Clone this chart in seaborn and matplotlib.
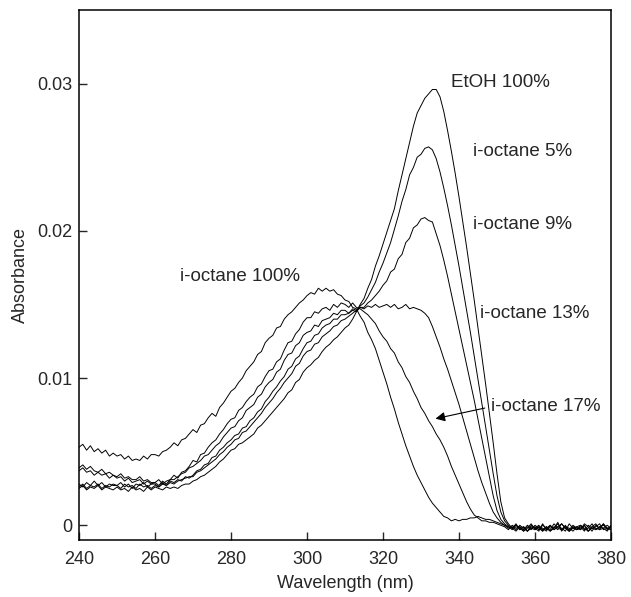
import numpy as np
import matplotlib.pyplot as plt
import seaborn as sns
import pandas as pd

sns.set_style('ticks')
plt.rcParams['font.family'] = ['Liberation Sans', 'DejaVu Sans']

# 波长 240-380 nm，每 1 nm 一个点
wavelength = list(range(240, 381))

# 吸光度读数，单位 1e-4
iso100 = [53, 55, 51, 54, 50, 52, 49, 51, 47, 49,
          47, 48, 45, 47, 44, 45, 44, 47, 45, 48,
          48, 47, 50, 51, 53, 56, 54, 58, 59, 62,
          65, 63, 68, 69, 73, 76, 74, 80, 83, 87,
          91, 93, 97, 100, 105, 108, 111, 116, 118, 124,
          127, 129, 134, 135, 140, 143, 145, 148, 151, 153,
          156, 158, 157, 161, 159, 161, 159, 160, 157, 156,
          153, 152, 148, 147, 142, 138, 131, 126, 120, 112,
          104, 96, 87, 79, 70, 62, 54, 47, 40, 34,
          29, 24, 19, 15, 12, 9, 6, 5, 3, 4,
          3, 4, 4, 5, 5, 6, 5, 4, 4, 3,
          2, 1, 0, -1, -2, 1, -3, -1, -4, 0,
          -2, -4, 1, -3, -1, -2, 2, -4, -1, -3,
          0, -2, -3, 1, -1, -4, 0, -2, 1, -3, -1]

iso17 = [39, 41, 38, 40, 37, 36, 38, 35, 36, 34,
         33, 35, 32, 33, 31, 31, 33, 30, 31, 29,
         29, 31, 28, 30, 31, 34, 32, 36, 37, 40,
         44, 43, 48, 49, 53, 56, 58, 62, 65, 69,
         72, 73, 78, 80, 84, 87, 89, 94, 96, 101,
         105, 106, 111, 113, 119, 124, 125, 130, 133, 138,
         141, 141, 145, 144, 147, 148, 146, 150, 148, 151,
         150, 148, 151, 148, 147, 145, 143, 140, 137, 132,
         128, 125, 120, 117, 111, 107, 101, 97, 91, 86,
         80, 76, 71, 67, 62, 58, 53, 47, 40, 34,
         28, 22, 16, 11, 7, 5, 3, 3, 2, 2,
         1, 0, -1, -3, 0, -2, -1, -4, -2, 1,
         -3, -1, -2, -4, 0, -3, -1, 1, -2, -4,
         -1, -3, 0, -2, -4, -1, 1, -3, -2, 0, -2]

iso13 = [37, 39, 36, 37, 34, 36, 34, 35, 32, 34,
         32, 33, 30, 32, 29, 30, 31, 28, 30, 28,
         29, 27, 30, 28, 31, 31, 33, 35, 36, 39,
         40, 42, 44, 47, 48, 51, 54, 56, 60, 63,
         66, 67, 71, 73, 78, 80, 82, 87, 89, 94,
         97, 99, 104, 106, 112, 116, 117, 122, 124, 129,
         131, 132, 136, 135, 139, 140, 141, 144, 143, 146,
         146, 144, 147, 146, 148, 147, 149, 148, 150, 148,
         149, 150, 148, 150, 147, 148, 150, 147, 148, 147,
         146, 144, 141, 135, 128, 121, 113, 106, 98, 90,
         82, 73, 64, 55, 46, 37, 29, 22, 15, 9,
         5, 2, 0, -2, -1, -3, 0, -2, -4, -1,
         -2, 0, -3, -1, -4, -2, 1, -3, -1, -2,
         -4, -1, 0, -3, -2, 1, -3, -1, -2, -4, 0]

iso9 = [28, 26, 29, 27, 30, 27, 29, 26, 28, 27,
        27, 29, 26, 28, 25, 28, 27, 29, 26, 28,
        28, 26, 29, 27, 30, 29, 31, 30, 33, 32,
        34, 37, 38, 41, 42, 46, 47, 51, 53, 56,
        58, 61, 62, 66, 67, 71, 73, 77, 79, 84,
        87, 91, 94, 98, 101, 106, 108, 113, 115, 120,
        124, 125, 129, 130, 134, 136, 137, 140, 140, 143,
        143, 144, 146, 145, 148, 148, 151, 153, 156, 159,
        163, 166, 172, 174, 181, 184, 192, 195, 202, 204,
        208, 209, 207, 206, 198, 190, 180, 169, 157, 145,
        133, 121, 109, 97, 85, 72, 59, 46, 33, 20,
        10, 4, 1, -1, -3, 0, -2, -4, -1, -3,
        0, -2, -4, -1, -3, 1, -2, -3, 0, -4,
        -2, -1, -3, 0, -4, -2, -1, 1, -3, -2, -1]

iso5 = [26, 28, 25, 27, 26, 28, 25, 27, 26, 28,
        27, 25, 28, 26, 27, 25, 28, 26, 27, 25,
        27, 26, 28, 27, 29, 28, 30, 31, 32, 33,
        33, 36, 37, 39, 41, 43, 45, 48, 50, 53,
        55, 58, 59, 63, 64, 67, 70, 73, 76, 80,
        83, 86, 90, 93, 97, 100, 103, 108, 110, 115,
        118, 119, 123, 124, 128, 130, 132, 135, 136, 139,
        140, 142, 144, 146, 149, 151, 155, 160, 165, 172,
        178, 185, 192, 201, 210, 220, 228, 238, 243, 250,
        252, 256, 257, 255, 249, 240, 229, 217, 204, 190,
        176, 161, 146, 131, 115, 99, 83, 67, 51, 35,
        20, 9, 3, 0, -2, -4, -1, -3, 0, -2,
        -3, -1, -4, -2, 0, -3, -1, -2, -4, 1,
        -2, -3, -1, -4, 0, -2, -3, -1, 0, -2, -3]

etoh = [25, 27, 24, 26, 25, 27, 24, 26, 25, 24,
        26, 24, 25, 23, 26, 24, 25, 23, 26, 24,
        26, 25, 24, 26, 25, 26, 25, 27, 28, 28,
        30, 31, 33, 34, 36, 38, 40, 43, 45, 48,
        51, 52, 55, 56, 58, 60, 62, 66, 68, 71,
        74, 77, 80, 83, 86, 90, 92, 97, 99, 104,
        107, 109, 112, 114, 118, 121, 123, 126, 128, 131,
        134, 136, 140, 145, 150, 154, 161, 167, 176, 183,
        191, 199, 207, 215, 227, 238, 249, 260, 271, 280,
        285, 290, 293, 296, 296, 291, 281, 268, 254, 239,
        223, 206, 189, 171, 153, 134, 115, 96, 76, 56,
        35, 16, 5, 1, -2, 0, -3, -1, -4, -2,
        -1, -3, 0, -2, -4, -1, -3, 1, -2, -4,
        -1, -3, -2, 0, -4, -1, -2, -3, 1, -2, -3]

samples = {'i-octane 100%': iso100, 'i-octane 17%': iso17, 'i-octane 13%': iso13,
           'i-octane 9%': iso9, 'i-octane 5%': iso5, 'EtOH 100%': etoh}

frames = []
for name, vals in samples.items():
    frames.append(pd.DataFrame({'wavelength': wavelength,
                                'absorbance': np.array(vals) * 1e-4,
                                'sample': name}))
df = pd.concat(frames, ignore_index=True)

fig = plt.figure(figsize=(6.31, 5.97), dpi=100)
ax = fig.add_axes([0.1252, 0.0955, 0.8431, 0.8878])

sns.lineplot(data=df, x='wavelength', y='absorbance', units='sample',
             estimator=None, color='black', lw=0.7, ax=ax)

ax.set_xlim(240, 380)
ax.set_ylim(-0.001, 0.035)
ax.set_xticks(range(240, 381, 20))
ax.set_yticks([0, 0.01, 0.02, 0.03])
ax.set_yticklabels(['0', '0.01', '0.02', '0.03'])
ax.tick_params(direction='in', length=6, width=1, labelsize=13, pad=5)
ax.tick_params(axis='x', pad=8)
for sp in ax.spines.values():
    sp.set_linewidth(1.1)
    sp.set_color('black')

ax.set_xlabel('Wavelength (nm)', fontsize=13, labelpad=5)
ax.set_ylabel('Absorbance', fontsize=13, labelpad=6)

# 曲线标注
fs = 13.5
ax.text(338, 0.0301, 'EtOH 100%', fontsize=fs, va='center')
ax.text(343.8, 0.0254, 'i-octane 5%', fontsize=fs, va='center')
ax.text(343.8, 0.0204, 'i-octane 9%', fontsize=fs, va='center')
ax.text(345.5, 0.0144, 'i-octane 13%', fontsize=fs, va='center')
ax.text(348.3, 0.0081, 'i-octane 17%', fontsize=fs, va='center')
ax.text(266.6, 0.0169, 'i-octane 100%', fontsize=fs, va='center')
ax.annotate('', xy=(333.1, 0.0072), xytext=(347.5, 0.0080),
            arrowprops=dict(arrowstyle='-|>', color='black', lw=0.8,
                            mutation_scale=14))

fig.savefig('out.png', dpi=100)
